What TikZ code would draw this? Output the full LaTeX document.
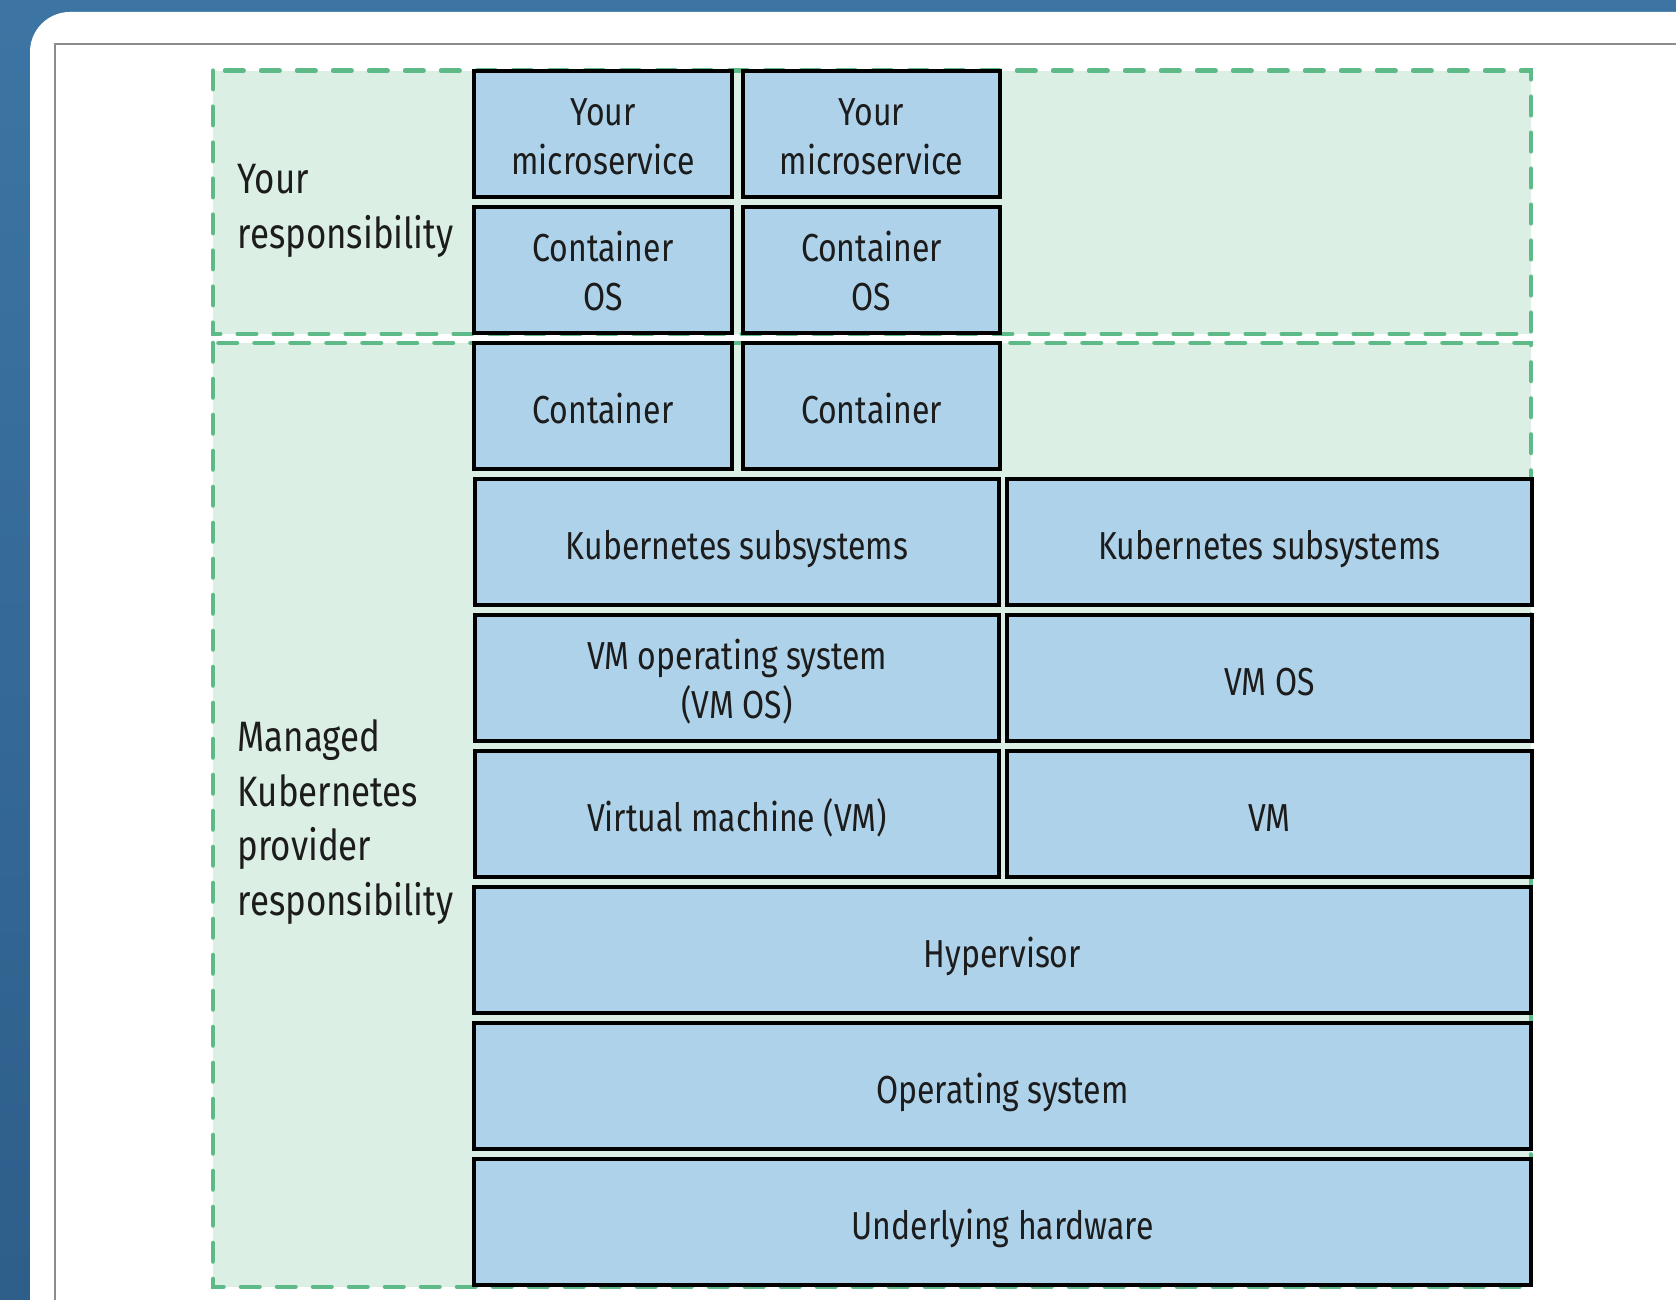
\documentclass[tikz,border=0pt]{standalone}
\usepackage{fontspec}
\setmainfont{Fira Sans}[FakeStretch=0.82]
\usepackage{tikz}
\usetikzlibrary{positioning}
\definecolor{PageColor}{RGB}{60,117,163}
\definecolor{PageDark}{RGB}{46,94,138}
\definecolor{FrameColor}{RGB}{140,140,140}
\definecolor{ZoneColor}{RGB}{220,239,228}
\definecolor{DashColor}{RGB}{94,186,134}
\definecolor{BoxColor}{RGB}{174,210,233}
\definecolor{InkColor}{RGB}{28,28,28}
\newcommand{\boxfont}{\fontsize{11.1}{14.2}\selectfont}
\newcommand{\sidefont}{\fontsize{12.1}{15.5}\selectfont}
\tikzstyle{layer} = [rectangle, draw=black, line width=1.2pt, fill=BoxColor, text=InkColor, align=center, inner sep=0pt, minimum height=1.265cm, font=\boxfont, text depth=0pt, text height=0.36cm]
\tikzstyle{twoline} = [text height=0.82cm]
\tikzstyle{narrow} = [layer, minimum width=2.575cm]
\tikzstyle{half} = [layer, minimum width=5.245cm]
\tikzstyle{whole} = [layer, minimum width=10.57cm]
\tikzstyle{zone} = [fill=ZoneColor, draw=DashColor, line width=1.3pt, dash pattern=on 0.185cm off 0.175cm, line cap=round]
\tikzstyle{sidelabel} = [anchor=west, align=left, text=InkColor, inner sep=0pt, font=\sidefont]

\begin{document}
\begin{tikzpicture}
    \useasboundingbox (0,0) rectangle (16.76,13);
    % Page behind the panel
    \shade[top color=PageColor, bottom color=PageDark] (0,0) rectangle (16.76,13);
    \fill[white, rounded corners=0.4cm] (0.30,12.88) rectangle (17.5,-0.5);
    \draw[FrameColor, line width=0.8pt] (17.5,12.56) -- (0.55,12.56) -- (0.55,-0.5);

    % Responsibility zones
    \draw[zone] (2.13,12.293) rectangle (15.31,9.66);
    \draw[zone] (2.13,9.57) rectangle (15.31,0.13);
    \node[sidelabel] (yours) at (2.37,10.89) {Your\\responsibility};
    \node[sidelabel] (provider) at (2.37,4.78) {Managed\\Kubernetes\\provider\\responsibility};

    % Container stacks
    \node[narrow, twoline] (svcA) at (6.03,11.66) {Your\\microservice};
    \node[narrow, twoline] (svcB) at (8.715,11.66) {Your\\microservice};
    \node[narrow, twoline] (cosA) at (6.03,10.30) {Container\\OS};
    \node[narrow, twoline] (cosB) at (8.715,10.30) {Container\\OS};
    \node[narrow] (ctrA) at (6.03,8.94) {Container};
    \node[narrow] (ctrB) at (8.715,8.94) {Container};

    % Nodes
    \node[half] (kubeA) at (7.37,7.58) {Kubernetes subsystems};
    \node[half] (kubeB) at (12.695,7.58) {Kubernetes subsystems};
    \node[half, twoline] (vmosA) at (7.37,6.22) {VM operating system\\(VM OS)};
    \node[half] (vmosB) at (12.695,6.22) {VM OS};
    \node[half] (vmA) at (7.37,4.86) {Virtual machine (VM)};
    \node[half] (vmB) at (12.695,4.86) {VM};

    % Host
    \node[whole] (hyper) at (10.025,3.50) {Hypervisor};
    \node[whole] (hostos) at (10.025,2.14) {Operating system};
    \node[whole] (hw) at (10.025,0.78) {Underlying hardware};
\end{tikzpicture}
\end{document}
